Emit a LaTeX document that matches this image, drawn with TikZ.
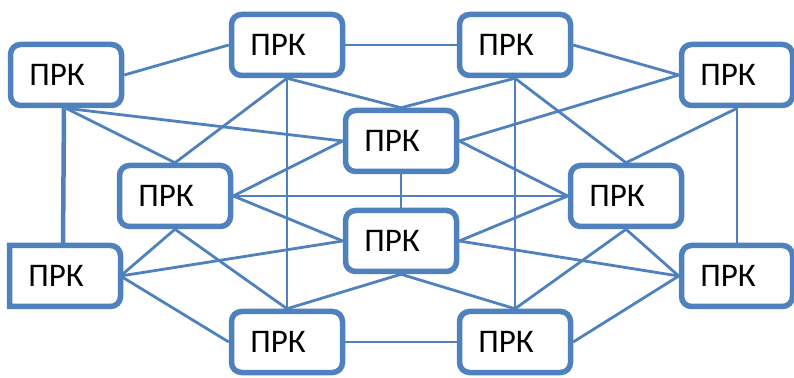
\documentclass[tikz,border=0pt]{standalone}
\usepackage{fontspec}
\setmainfont{Carlito}
\usetikzlibrary{backgrounds}
\definecolor{prkblue}{HTML}{4F81BD}
\begin{document}
\begin{tikzpicture}[x=1pt,y=1pt,
  prk/.style={draw=prkblue, line width=5.5pt, rounded corners=10pt, fill=white,
    minimum width=111pt, minimum height=61pt, inner sep=0pt,
    font=\fontsize{33}{36}\selectfont, text=black},
  prkedge/.style={draw=prkblue, line width=5.5pt, line join=miter},
  link/.style={draw=prkblue, line width=2.8pt},
  thicklink/.style={draw=prkblue, line width=4.5pt}]
\useasboundingbox (0,0) rectangle (794,377);
% nodes
\node[prk] (L1) at (66,302) {ПРК\kern18pt};
\node[prk] (T1) at (287,332) {ПРК\kern18pt};
\node[prk] (T2) at (515,332) {ПРК\kern18pt};
\node[prk] (R1) at (737,302) {ПРК\kern18pt};
\node[prk] (C1) at (401,236) {ПРК\kern18pt};
\node[prk] (ML) at (175,181) {ПРК\kern18pt};
\node[prk] (MR) at (626,181) {ПРК\kern18pt};
\node[prk] (C2) at (401,136) {ПРК\kern18pt};
\node[prk, draw=none, outer sep=0pt] (L2) at (65,101) {ПРК\kern18pt};
\draw[prkedge] (L2.south west) -- (L2.north west)
  -- ([xshift=-10pt]L2.north east) arc[start angle=90, end angle=0, radius=10pt]
  -- ([yshift=10pt]L2.south east) arc[start angle=0, end angle=-90, radius=10pt]
  -- cycle;
\node[prk] (R2) at (737,101) {ПРК\kern18pt};
\node[prk] (B1) at (287,35) {ПРК\kern18pt};
\node[prk] (B2) at (515,35) {ПРК\kern18pt};
% connectors
\begin{pgfonlayer}{background}
\draw[link] (L1.east) -- (T1.west);
\draw[link] (T1.east) -- (T2.west);
\draw[link] (T2.east) -- (R1.west);
\draw[thicklink] ([xshift=-2pt]L1.south) -- ([xshift=-2pt]L2.north);
\draw[link] (R1.south) -- (R2.north);
\draw[link] (B1.east) -- (B2.west);
\draw[link] (L1.south) -- (ML.north);
\draw[link] (L1.south) -- (C1.west);
\draw[link] (T1.south) -- (ML.north);
\draw[link] (T1.south) -- (C1.north);
\draw[link] (T1.south) -- (B1.north);
\draw[link] (T2.south) -- (C1.north);
\draw[link] (T2.south) -- (B2.north);
\draw[link] (T2.south) -- (MR.north);
\draw[link] (R1.west) -- (C1.east);
\draw[link] (R1.south) -- (MR.north);
\draw[link] (ML.east) -- (C1.west);
\draw[link] (ML.east) -- (MR.west);
\draw[link] (ML.east) -- (C2.west);
\draw[link] (ML.south) -- (L2.east);
\draw[link] (ML.south) -- (B1.north);
\draw[link] (C1.south) -- (C2.north);
\draw[link] (C1.east) -- (MR.west);
\draw[link] (C2.east) -- (MR.west);
\draw[link] (L2.east) -- (C2.west);
\draw[link] (L2.east) -- (B1.west);
\draw[link] (C2.south) -- (B1.north);
\draw[link] (C2.south) -- (B2.north);
\draw[link] (MR.south) -- (B2.north);
\draw[link] (MR.south) -- (R2.west);
\draw[link] (C2.east) -- (R2.west);
\draw[link] (B2.east) -- (R2.west);
\end{pgfonlayer}
\end{tikzpicture}
\end{document}
